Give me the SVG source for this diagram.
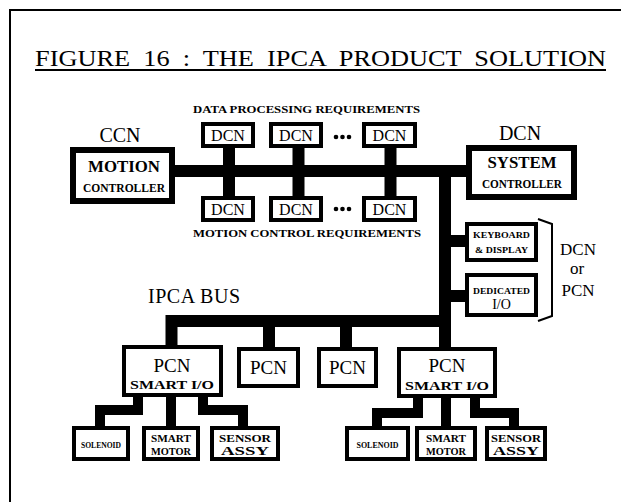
<svg xmlns="http://www.w3.org/2000/svg" width="621" height="502" viewBox="0 0 621 502">
<style>
.box{fill:#fff;stroke:#000;stroke-width:4}
.bx6{fill:#fff;stroke:#000;stroke-width:6}
.bus{fill:none;stroke:#000;stroke-width:12;stroke-linejoin:miter;stroke-linecap:butt}
.br{fill:none;stroke:#000;stroke-width:10;stroke-linejoin:miter;stroke-linecap:butt}
.t{font-family:"Liberation Serif","DejaVu Serif",serif;fill:#000;text-anchor:middle}
.b{font-weight:bold}
</style>
<rect width="621" height="502" fill="#fff"/>
<path d="M10,502 V10 H621" fill="none" stroke="#000" stroke-width="2"/>
<g id="title">
<text class="t" x="35" y="66" font-size="23" style="text-anchor:start;white-space:pre" xml:space="preserve" textLength="571" lengthAdjust="spacingAndGlyphs">FIGURE  16  :  THE  IPCA  PRODUCT  SOLUTION</text>
<line x1="35" y1="70" x2="606" y2="70" stroke="#000" stroke-width="1.8"/>
</g>
<g id="connectors">
<path class="bus" d="M175,171 H467"/>
<path class="bus" d="M445,165 V349"/>
<path class="bus" d="M229,147 V197 M298.5,147 V197 M390.5,147 V197"/>
<path class="bus" d="M450,241 H466 M450,296 H466"/>
<path class="bus" d="M445,321 H171.5 V347 M269,321 V349 M346,321 V349"/>
<path class="br" d="M138,396 V410 H100 V427 M171,396 V427 M203,396 V410 H243 V427"/>
<path class="br" d="M418,397 V413 H377 V427 M446,397 V427 M475,397 V413 H514 V427"/>
<path d="M538,219 L552,224 L552,316 L538,321" fill="none" stroke="#000" stroke-width="2"/>
</g>
<g id="labels">
<text class="t" x="193" y="113" font-size="10" font-weight="bold" style="text-anchor:start" textLength="227" lengthAdjust="spacingAndGlyphs">DATA PROCESSING REQUIREMENTS</text>
<text class="t" x="193" y="237" font-size="10" font-weight="bold" style="text-anchor:start" textLength="228" lengthAdjust="spacingAndGlyphs">MOTION CONTROL REQUIREMENTS</text>
<text class="t" x="120" y="142" font-size="20">CCN</text>
<text class="t" x="520" y="140" font-size="20">DCN</text>
<text class="t" x="148" y="303" font-size="20" style="text-anchor:start" textLength="92" lengthAdjust="spacing">IPCA BUS</text>
<text class="t" x="578" y="255" font-size="17">DCN</text>
<text class="t" x="577" y="274" font-size="17">or</text>
<text class="t" x="578" y="296" font-size="17">PCN</text>
<g fill="#000">
<circle cx="336" cy="137" r="2.3"/><circle cx="342.5" cy="137" r="2.3"/><circle cx="349" cy="137" r="2.3"/>
<circle cx="336" cy="209" r="2.3"/><circle cx="342.5" cy="209" r="2.3"/><circle cx="349" cy="209" r="2.3"/>
</g>
</g>
<g id="ccn-motion-controller">
<rect class="bx6" x="73" y="150" width="99" height="51"/>
<text class="t b" x="124" y="172" font-size="17" textLength="72" lengthAdjust="spacingAndGlyphs">MOTION</text>
<text class="t b" x="124" y="192" font-size="13" textLength="82" lengthAdjust="spacingAndGlyphs">CONTROLLER</text>
</g>
<g id="dcn-system-controller">
<rect class="bx6" x="469" y="148" width="105" height="49"/>
<text class="t b" x="522" y="168" font-size="16" textLength="69" lengthAdjust="spacingAndGlyphs">SYSTEM</text>
<text class="t b" x="522" y="188" font-size="13" textLength="80" lengthAdjust="spacingAndGlyphs">CONTROLLER</text>
</g>
<g id="dcn-top-1"><rect class="box" x="203" y="124" width="50" height="22"/><text class="t" x="228" y="141" font-size="16">DCN</text></g>
<g id="dcn-top-2"><rect class="box" x="271" y="124" width="50" height="22"/><text class="t" x="296" y="141" font-size="16">DCN</text></g>
<g id="dcn-top-3"><rect class="box" x="364" y="124" width="51" height="22"/><text class="t" x="389.5" y="141" font-size="16">DCN</text></g>
<g id="dcn-bot-1"><rect class="box" x="203" y="198" width="50" height="22"/><text class="t" x="228" y="215" font-size="16">DCN</text></g>
<g id="dcn-bot-2"><rect class="box" x="271" y="198" width="50" height="22"/><text class="t" x="296" y="215" font-size="16">DCN</text></g>
<g id="dcn-bot-3"><rect class="box" x="364" y="198" width="51" height="22"/><text class="t" x="389.5" y="215" font-size="16">DCN</text></g>
<g id="keyboard-display">
<rect class="box" x="467" y="224" width="69" height="36"/>
<text class="t b" x="501.5" y="238" font-size="9" textLength="57" lengthAdjust="spacingAndGlyphs">KEYBOARD</text>
<text class="t b" x="501.5" y="253" font-size="9" textLength="53" lengthAdjust="spacingAndGlyphs">&amp; DISPLAY</text>
</g>
<g id="dedicated-io">
<rect class="box" x="467" y="275" width="69" height="40"/>
<text class="t b" x="501.5" y="294" font-size="9" textLength="57" lengthAdjust="spacingAndGlyphs">DEDICATED</text>
<text class="t" x="501.5" y="309" font-size="14">I/O</text>
</g>
<g id="pcn-smart-io-1">
<rect class="box" x="124" y="347" width="97" height="48"/>
<text class="t" x="172" y="372" font-size="19">PCN</text>
<text class="t b" x="172" y="389" font-size="13" textLength="84" lengthAdjust="spacingAndGlyphs">SMART I/O</text>
</g>
<g id="pcn-2"><rect class="box" x="239" y="349" width="59" height="37"/><text class="t" x="268.5" y="374" font-size="19">PCN</text></g>
<g id="pcn-3"><rect class="box" x="319" y="349" width="57" height="37"/><text class="t" x="347.5" y="374" font-size="19">PCN</text></g>
<g id="pcn-smart-io-2">
<rect class="box" x="399" y="349" width="96" height="47"/>
<text class="t" x="447" y="372" font-size="19">PCN</text>
<text class="t b" x="447" y="390" font-size="13" textLength="84" lengthAdjust="spacingAndGlyphs">SMART I/O</text>
</g>
<g id="solenoid-1"><rect class="box" x="74" y="428" width="54" height="31"/><text class="t b" x="101" y="448" font-size="9" textLength="40" lengthAdjust="spacingAndGlyphs">SOLENOID</text></g>
<g id="smart-motor-1"><rect class="box" x="144" y="428" width="54" height="31"/><text class="t b" x="171" y="442" font-size="11" textLength="40" lengthAdjust="spacingAndGlyphs">SMART</text><text class="t b" x="171" y="455" font-size="11" textLength="40" lengthAdjust="spacingAndGlyphs">MOTOR</text></g>
<g id="sensor-assy-1"><rect class="box" x="212" y="428" width="66" height="31"/><text class="t b" x="245" y="442" font-size="11" textLength="52" lengthAdjust="spacingAndGlyphs">SENSOR</text><text class="t b" x="245" y="455" font-size="13" textLength="48" lengthAdjust="spacingAndGlyphs">ASSY</text></g>
<g id="solenoid-2"><rect class="box" x="347" y="428" width="61" height="31"/><text class="t b" x="377.5" y="448" font-size="9" textLength="42" lengthAdjust="spacingAndGlyphs">SOLENOID</text></g>
<g id="smart-motor-2"><rect class="box" x="417" y="428" width="58" height="31"/><text class="t b" x="446" y="442" font-size="11" textLength="40" lengthAdjust="spacingAndGlyphs">SMART</text><text class="t b" x="446" y="455" font-size="11" textLength="40" lengthAdjust="spacingAndGlyphs">MOTOR</text></g>
<g id="sensor-assy-2"><rect class="box" x="487" y="428" width="58" height="31"/><text class="t b" x="516" y="442" font-size="11" textLength="50" lengthAdjust="spacingAndGlyphs">SENSOR</text><text class="t b" x="516" y="455" font-size="13" textLength="46" lengthAdjust="spacingAndGlyphs">ASSY</text></g>
</svg>
